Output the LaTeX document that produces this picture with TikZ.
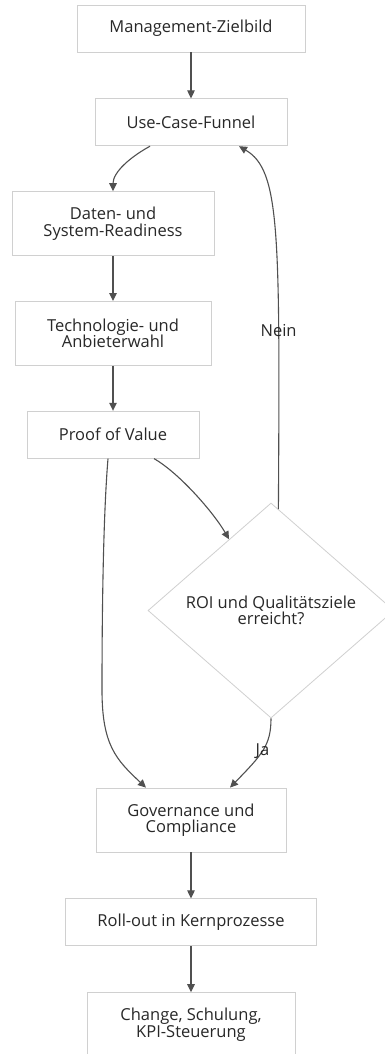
\documentclass[tikz,border=0pt]{standalone}
\usepackage{fontspec}
\setmainfont{Open Sans}
\usepackage{tikz}
\usetikzlibrary{shapes.geometric, arrows.meta, positioning, calc}
\definecolor{edgegrey}{RGB}{80, 80, 80}
\definecolor{boxline}{RGB}{208, 208, 208}
\definecolor{textdark}{RGB}{40, 40, 40}

\begin{document}
\begin{tikzpicture}[
    x=1pt, y=1pt,
    every node/.style={font=\fontsize{16.5}{16.5}\selectfont, text=textdark},
    stage/.style={rectangle, draw=boxline, line width=0.8pt, fill=white, align=center, minimum width=#1, minimum height=47pt, inner sep=0pt},
    tallstage/.style={stage=#1, minimum height=64pt},
    decision/.style={diamond, draw=boxline, line width=0.8pt, fill=white, align=center, minimum width=246pt, minimum height=215pt, inner sep=0pt},
    flow/.style={-{Triangle[length=8pt,width=7.5pt]}, line width=1.1pt, draw=edgegrey},
    edgelbl/.style={inner sep=1pt}
]
\useasboundingbox[fill=white] (0,0) rectangle (384,-1054);

% Planning stages
\node[stage=228pt] (ziel) at (191,-28.5) {Management-Zielbild};
\node[stage=192pt, below=46pt of ziel] (funnel) {Use-Case-Funnel};
\node[tallstage=202pt, below=45pt of funnel, xshift=-78pt] (daten) {Daten- und\\System-Readiness};
\node[tallstage=196pt, below=45pt of daten] (tech) {Technologie- und\\Anbieterwahl};
\node[stage=172pt, below=45pt of tech] (pov) {Proof of Value};

% Decision
\node[decision] (roi) at (271,-610.5) {ROI und Qualitätsziele\\erreicht?};

% Delivery stages
\node[tallstage=190pt] (gov) at (191,-820) {Governance und\\Compliance};
\node[stage=251pt, below=46pt of gov] (rollout) {Roll-out in Kernprozesse};
\node[tallstage=208pt, below=46pt of rollout] (change) {Change, Schulung,\\KPI-Steuerung};

\draw[flow] (ziel) -- (funnel);
\draw[flow] ([xshift=-41pt]funnel.south) .. controls +(-20,-11) and +(0,19) .. (daten.north);
\draw[flow] (daten) -- (tech);
\draw[flow] (tech) -- (pov);
\draw[flow] ([xshift=41pt]pov.south) .. controls +(26,-15) and +(-15,26) .. ($(roi.north)!0.34!(roi.west)$);
\draw[flow] ([xshift=-5pt]pov.south) .. controls +(-5,-60) and +(0,70) .. (102,-690) .. controls +(0,-55) and +(-30,28) .. ([xshift=-45pt]gov.north);
\draw[flow] (roi.south) .. controls +(0,-27) and +(32,33) .. ([xshift=39pt]gov.north) node[edgelbl, pos=0.5] {Ja};
\draw[flow] ($(roi.north)!0.06!(roi.east)$) .. controls +(1.6,279) and +(41,-24) .. ([xshift=48pt]funnel.south) node[edgelbl, pos=0.265] {Nein};
\draw[flow] (gov) -- (rollout);
\draw[flow] (rollout) -- (change);

\end{tikzpicture}
\end{document}
